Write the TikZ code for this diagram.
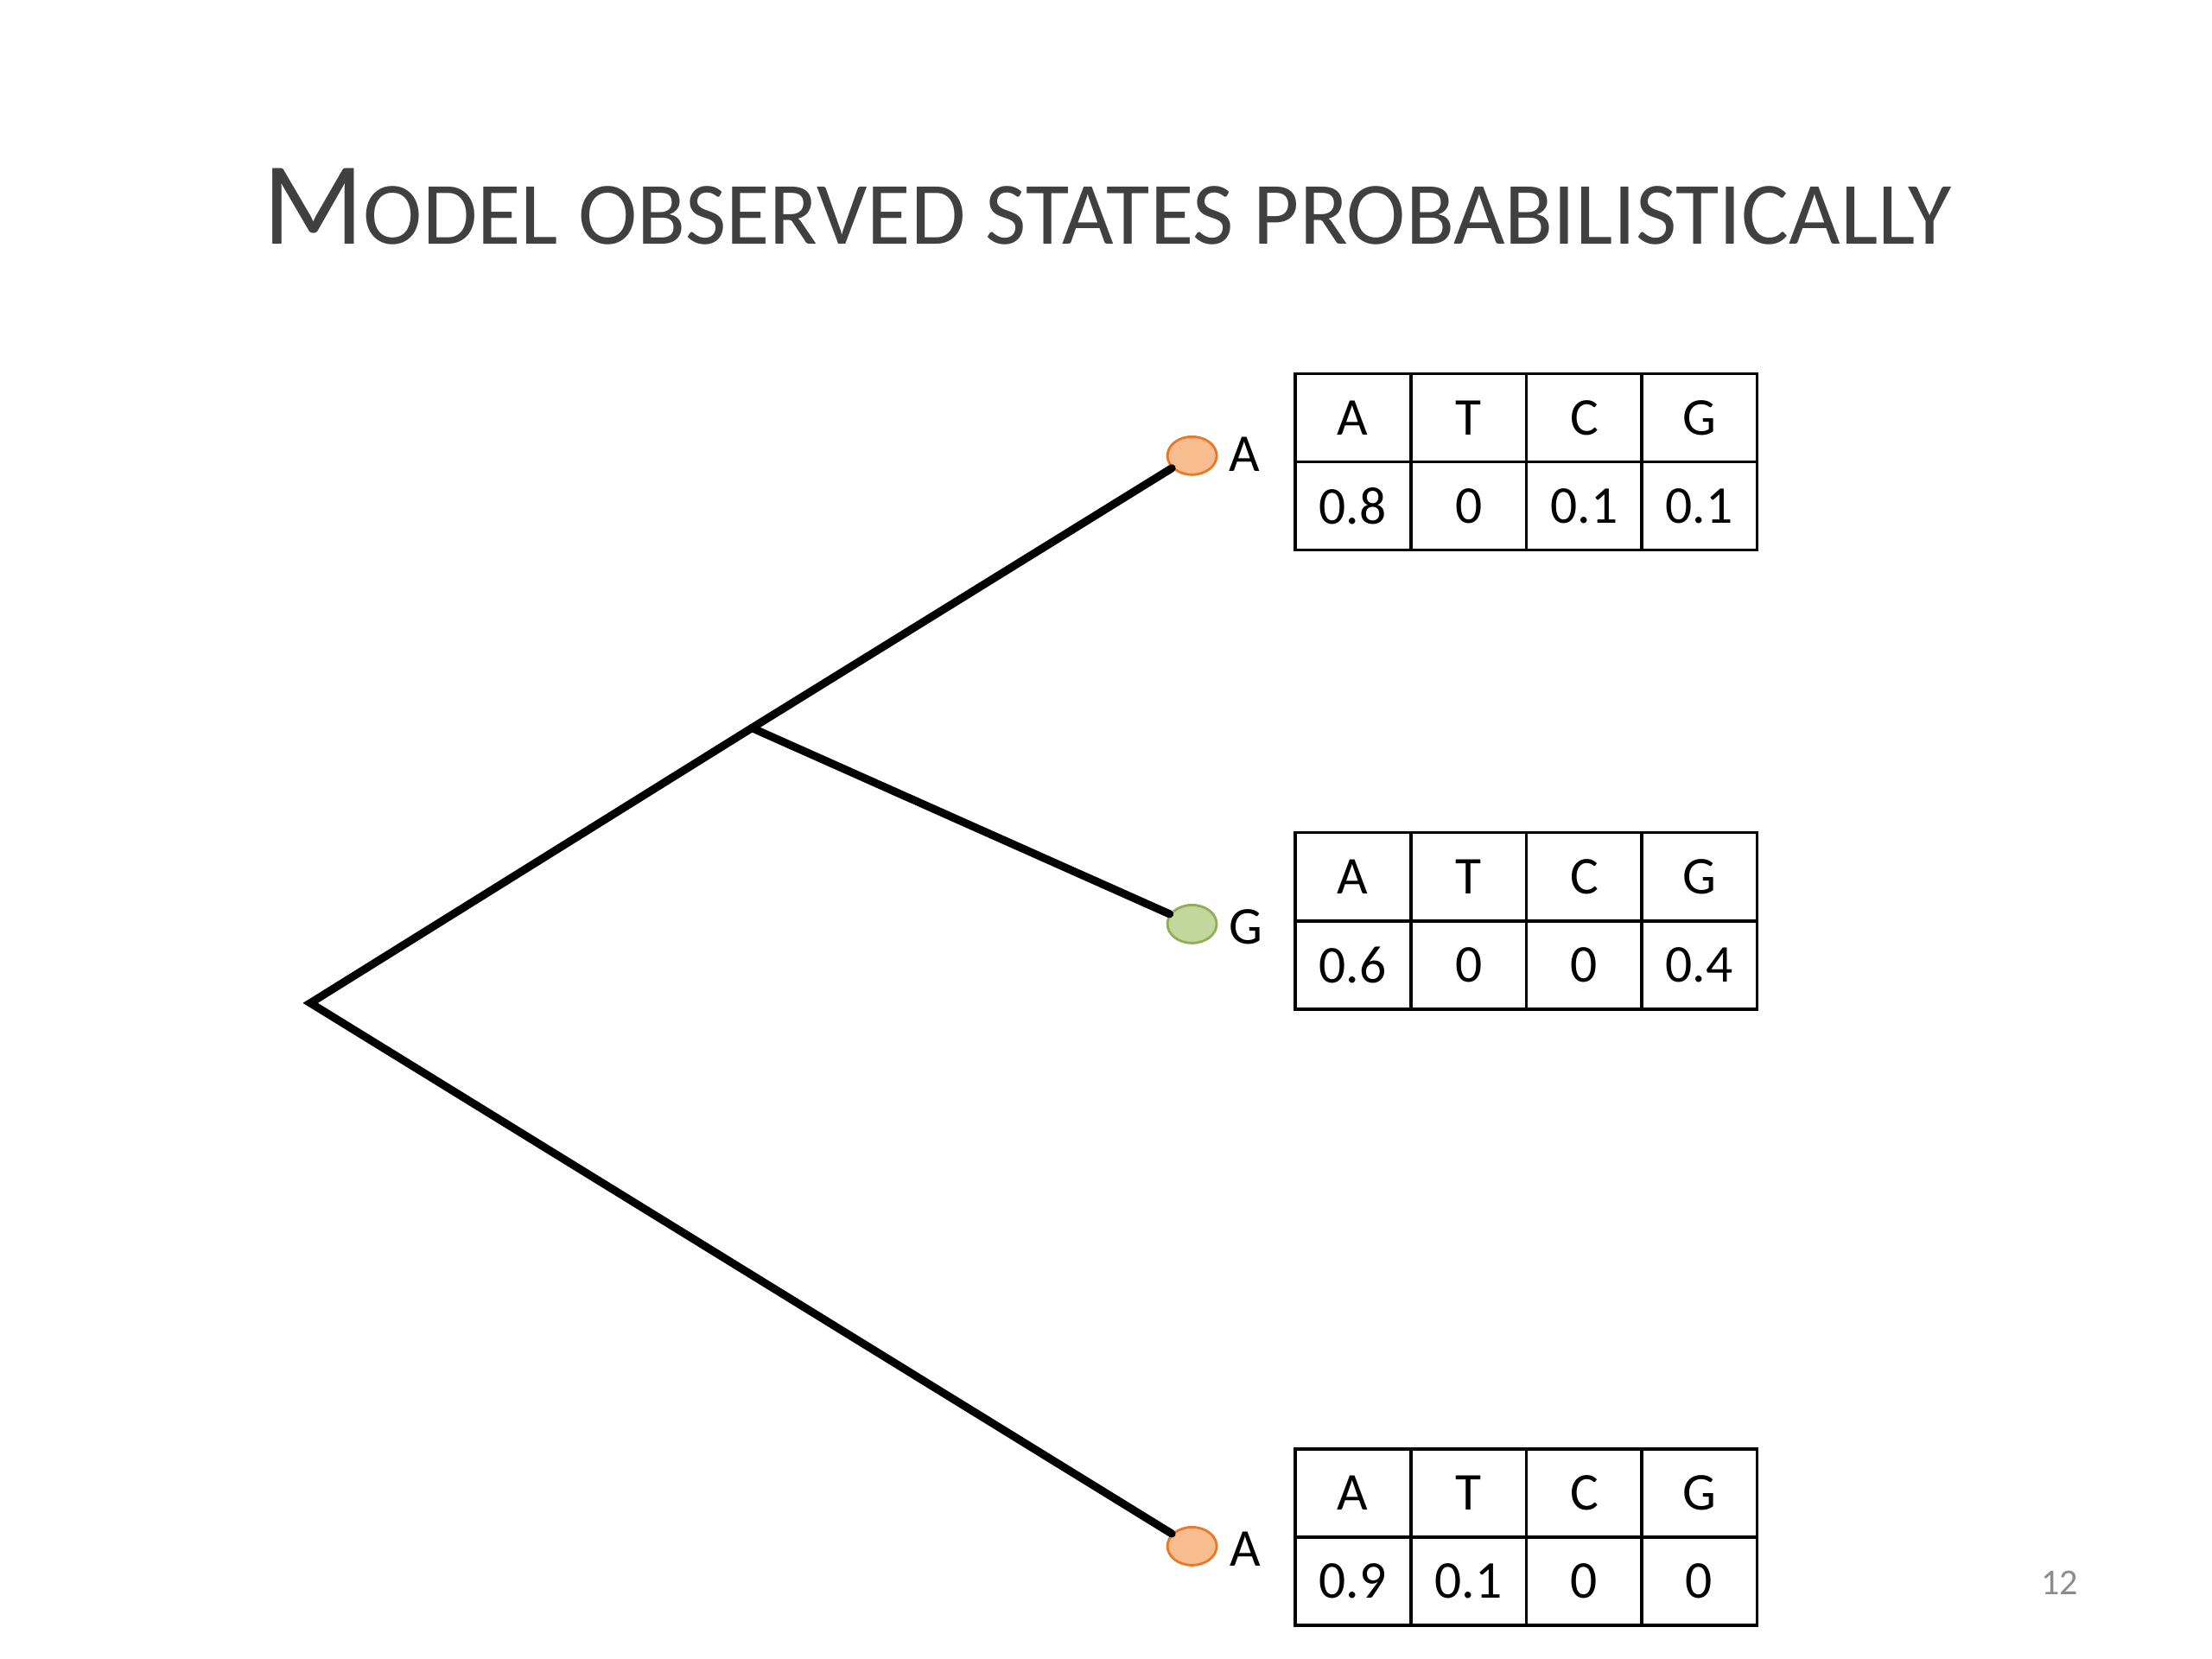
\documentclass[tikz,border=0pt]{standalone}
\usepackage{fontspec}
\setmainfont{Carlito}
\usetikzlibrary{shapes.geometric}
\definecolor{titlegray}{HTML}{404040}
\definecolor{numgray}{HTML}{8C8C8C}
\definecolor{orangeF}{HTML}{F8BD8E}
\definecolor{orangeE}{HTML}{E8782A}
\definecolor{greenF}{HTML}{C3D69B}
\definecolor{greenE}{HTML}{8FAE55}
\begin{document}
\begin{tikzpicture}[x=0.016327cm,y=-0.016327cm,
  tree/.style={line width=2.6pt, line cap=round, line join=miter},
  leaf/.style={ellipse, line width=0.8pt, minimum width=0.57cm, minimum height=0.44cm, inner sep=0pt},
  leafA/.style={leaf, draw=orangeE, fill=orangeF},
  leafG/.style={leaf, draw=greenE, fill=greenF},
  lbl/.style={font=\fontsize{17.5}{20}\selectfont, inner sep=0pt},
  cell/.style={draw, line width=1pt, minimum width=1.335cm, minimum height=1.02cm, inner sep=0pt, font=\fontsize{17.5}{20}\selectfont}]
\useasboundingbox (0,0) rectangle (1568,1176);
% title
\node[anchor=base, text=titlegray, inner sep=0pt] (title) at (785,173)
  {\fontsize{38.8}{40}\selectfont M\fontsize{29.3}{30}\selectfont ODEL OBSERVED STATES PROBABILISTICALLY};
% tree
\coordinate (root) at (220,711);
\coordinate (mid) at (533,516);
\node[leafA] (l1) at (845,323) {};
\node[leafG] (l2) at (845,655) {};
\node[leafA] (l3) at (845,1096) {};
\draw[tree] (l3) -- (root) -- (mid) -- (l1);
\draw[tree] (mid) -- (l2);
\node[lbl] (a1) at (882,322) {A};
\node[lbl] (g2) at (883,657) {G};
\node[lbl] (a3) at (883,1098) {A};
% tables
\foreach \tn/\yh/\yv/\va/\vb/\vc/\vd in {1/296/358.5/0.8/0/0.1/0.1, 2/621.5/684/0.6/0/0/0.4, 3/1058.5/1121/0.9/0.1/0/0}{
  \node[cell] (t\tn h1) at (959,\yh) {A};
  \node[cell] (t\tn h2) at (1041,\yh) {T};
  \node[cell] (t\tn h3) at (1123,\yh) {C};
  \node[cell] (t\tn h4) at (1204.5,\yh) {G};
  \node[cell] (t\tn v1) at (959,\yv) {\va};
  \node[cell] (t\tn v2) at (1041,\yv) {\vb};
  \node[cell] (t\tn v3) at (1123,\yv) {\vc};
  \node[cell] (t\tn v4) at (1204.5,\yv) {\vd};
}
% page number
\node[text=numgray, font=\fontsize{12}{14}\selectfont, inner sep=0pt] (pnum) at (1460,1122) {12};
\end{tikzpicture}
\end{document}
